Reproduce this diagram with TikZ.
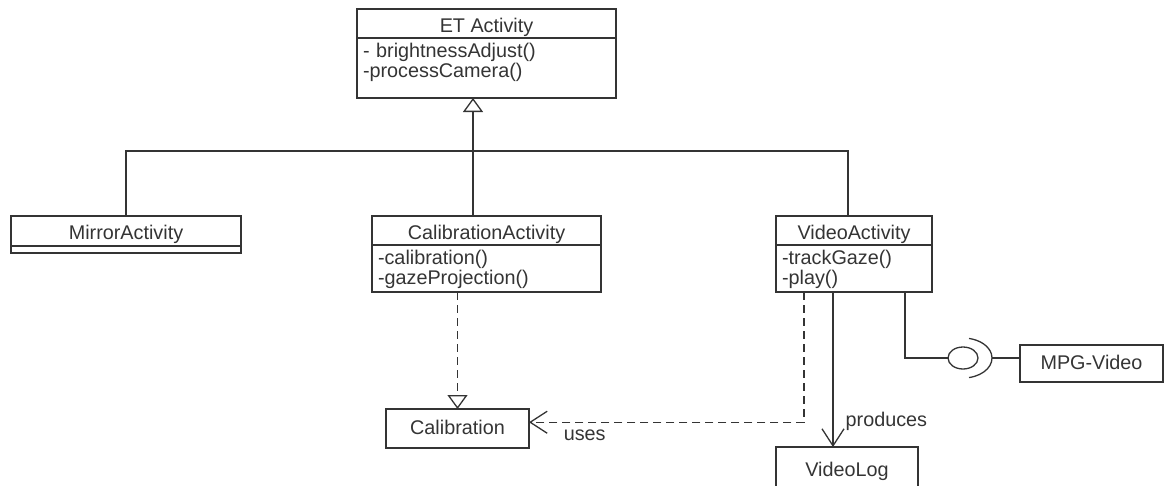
\documentclass[tikz,border=0pt]{standalone}
\usepackage{fontspec}
\setmainfont{Liberation Sans}
\usetikzlibrary{positioning,arrows.meta,shapes.geometric,calc}
\definecolor{Ink}{RGB}{52,52,52}

\begin{document}
\begin{tikzpicture}[x=1pt,y=-1pt,line width=1.3pt,color=Ink,font=\fontsize{19.8}{20}\selectfont,
 hd/.style={draw,outer sep=0pt,minimum height=29pt,inner sep=0pt,text height=17pt,text depth=0pt},
 ops/.style={draw,outer sep=0pt,inner xsep=6pt,inner ysep=5pt,text height=14pt,text depth=23pt,align=left},
 box/.style={draw,outer sep=0pt,minimum width=143pt,minimum height=39pt,inner sep=0pt,text height=11pt,text depth=0pt},
 lab/.style={inner sep=0pt,anchor=base west},
 dsh/.style={dash pattern=on 8pt off 5pt},
 gen/.style={-{Triangle[open,length=14pt,width=20pt]}},
 opn/.style={-{Straight Barb[length=17pt,width=22pt]}}]
\useasboundingbox (0,0) rectangle (1166,485);
% classes
\node[hd,minimum width=259pt] (et) at (486.5,23.5) {ET Activity};
\node[ops,text width=247pt,text depth=36pt,below=0pt of et] (etops) {- brightnessAdjust()\\-processCamera()};
\node[hd,minimum width=230pt,minimum height=30pt] (mir) at (126,231) {MirrorActivity};
\node[draw,outer sep=0pt,inner sep=0pt,minimum width=230pt,minimum height=7pt,below=0pt of mir] (mirops) {};
\node[hd,minimum width=229pt] (cal) at (486.5,230.5) {CalibrationActivity};
\node[ops,text width=217pt,below=0pt of cal] (calops) {-calibration()\\-gazeProjection()};
\node[hd,minimum width=156pt] (vid) at (854,230.5) {VideoActivity};
\node[ops,text width=144pt,below=0pt of vid] (vidops) {-trackGaze()\\-play()};
\node[box] (clb) at (457.5,428.5) {Calibration};
\node[box,minimum width=142pt,minimum height=45pt,text height=14pt] (log) at (847,469.5) {VideoLog};
\node[box,minimum height=37pt] (mpg) at (1091.5,363.5) {MPG-Video};
\node[draw,ellipse,outer sep=0pt,inner sep=0pt,minimum width=30pt,minimum height=22pt] (ball) at (963,358) {};
% inheritance
\coordinate (bus) at (473,151);
\draw (mir.north) |- (bus) -| ($(vid.north)+(-6,0)$);
\draw[gen] (cal.north -| bus) -- (etops.south -| bus);
\draw[dsh,gen] (calops.south -| clb.north) -- (clb.north);
% uses / produces / interface
\coordinate (vu) at ($(vidops.south west)+(28,0)$);
\coordinate (vp) at ($(vidops.south west)+(57,0)$);
\coordinate (vi) at ($(vidops.south west)+(129,0)$);
\draw[dsh,opn] (vu) |- (clb.5) node[lab,pos=.938,yshift=-18pt]{uses};
\draw[opn] (vp) -- (vp |- log.north) node[lab,pos=.865,xshift=12pt]{produces};
\draw (vi) |- (ball.west);
\coordinate (sock) at ($(ball.center)+(29,0)$);
\draw ($(ball.center)+(78:29 and 20)$) arc[start angle=78,end angle=-78,x radius=29,y radius=20];
\draw (sock) -- (mpg.west |- sock);
\end{tikzpicture}
\end{document}
